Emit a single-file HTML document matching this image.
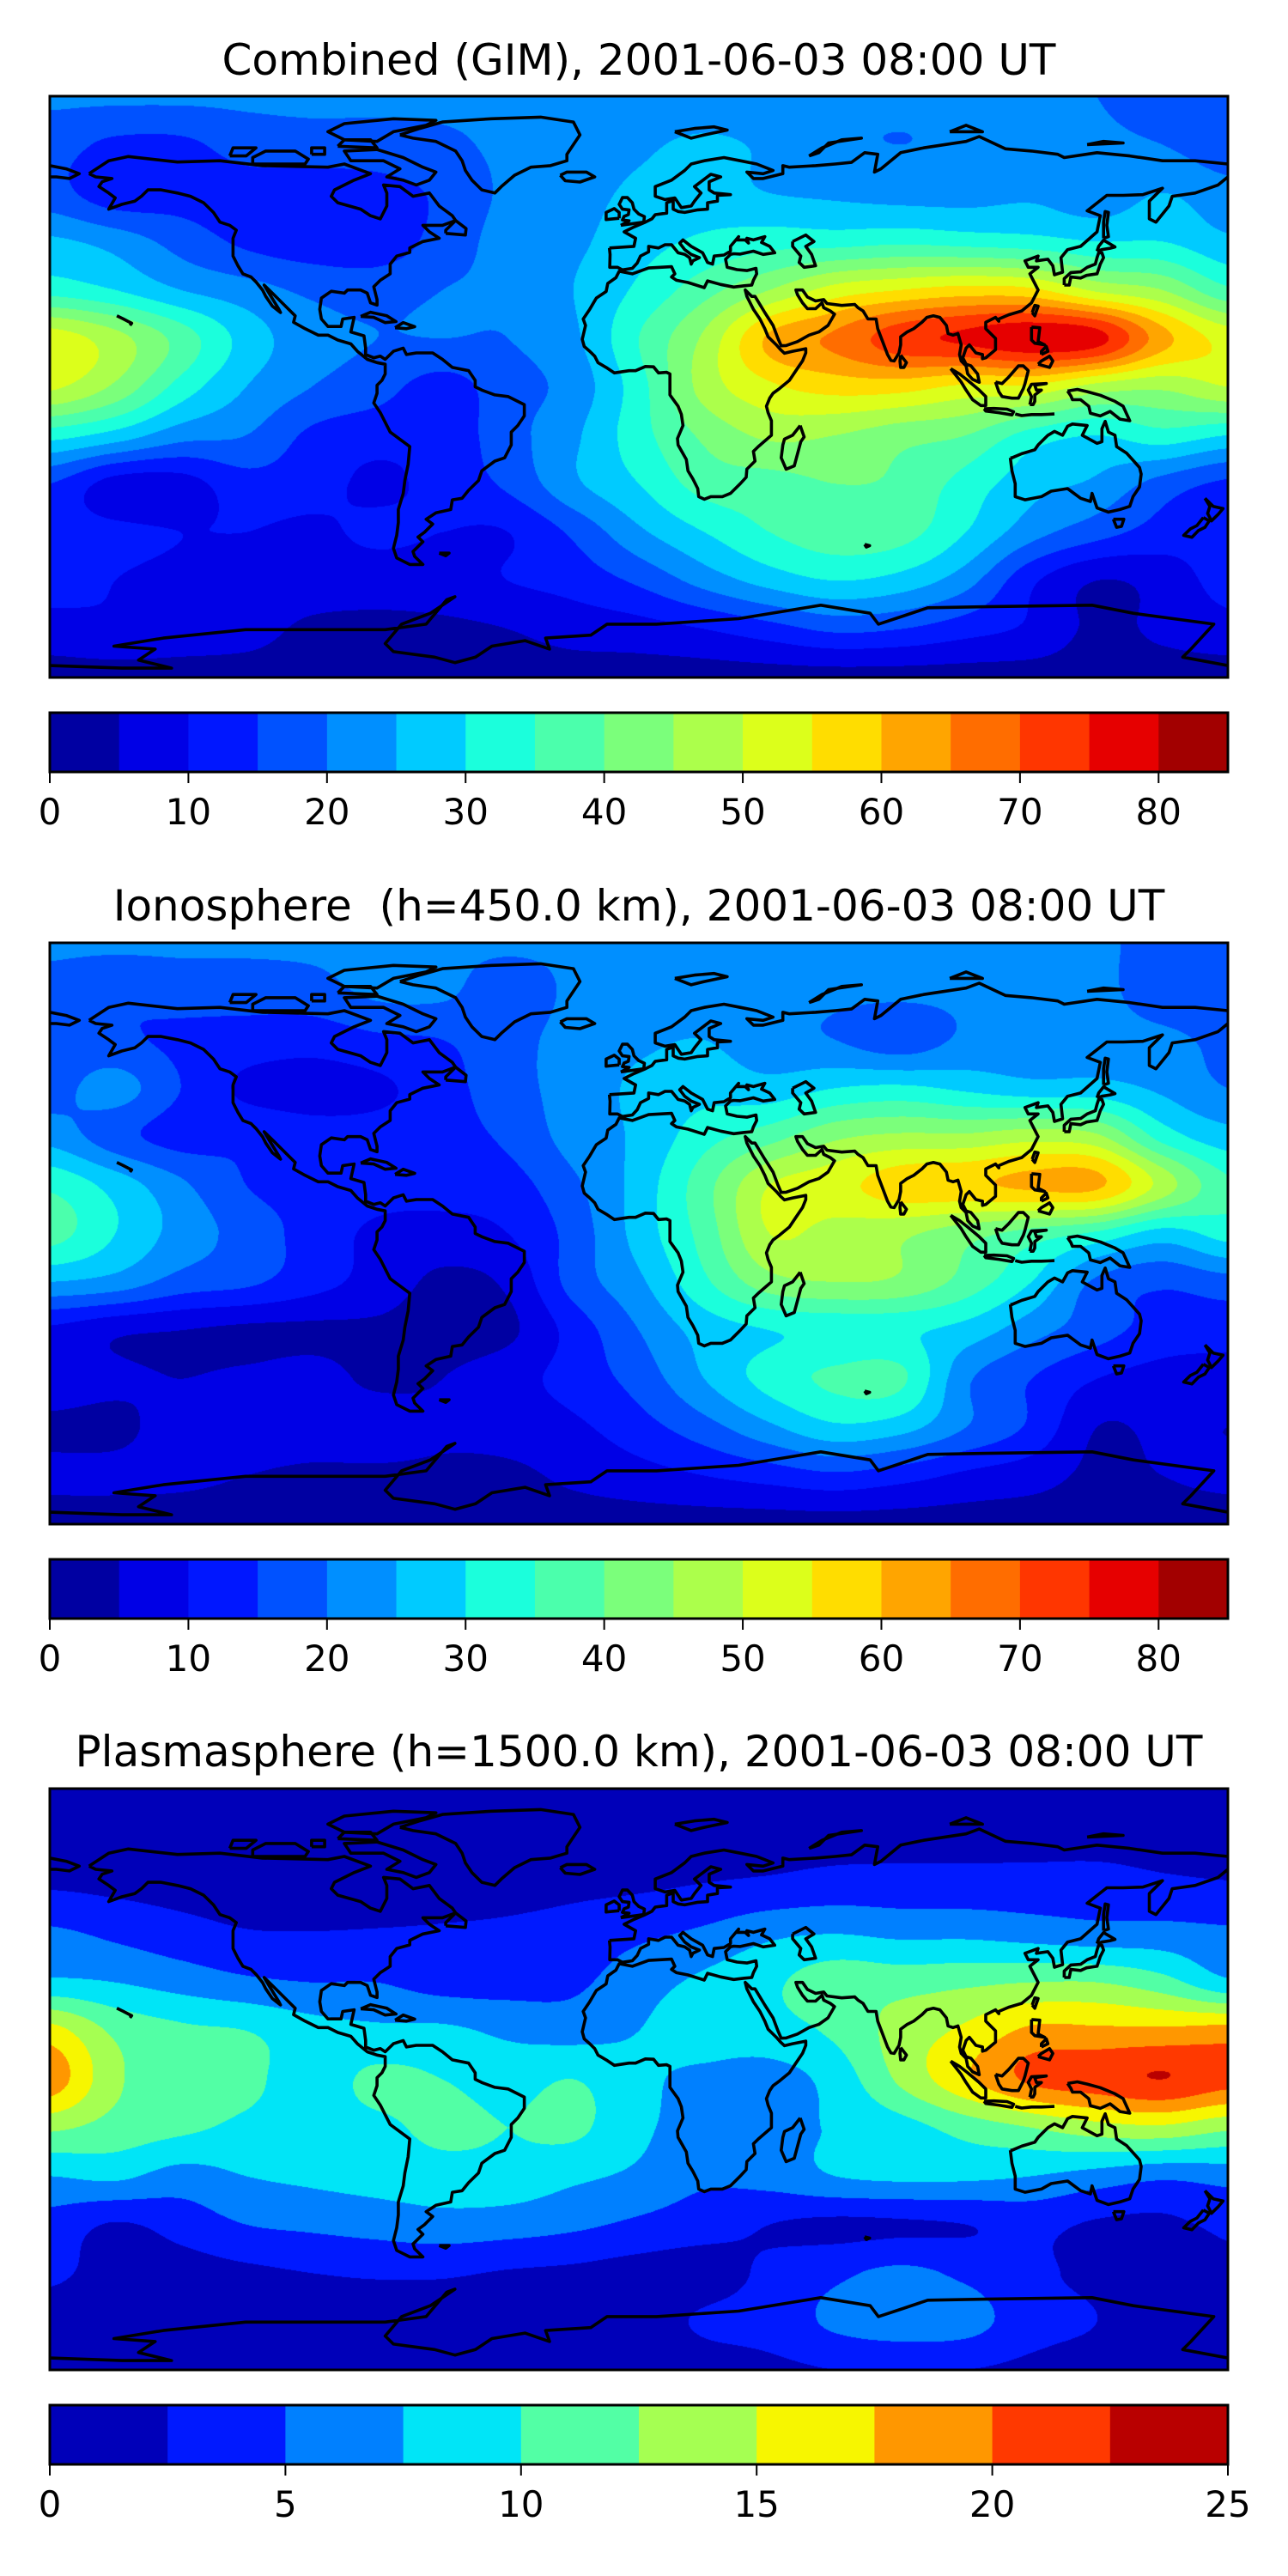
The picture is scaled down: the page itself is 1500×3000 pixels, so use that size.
<!DOCTYPE html>
<html><head><meta charset="utf-8">
<style>
html,body{margin:0;padding:0;background:#fff;}
body{width:1500px;height:3000px;position:relative;overflow:hidden;font-family:"DejaVu Sans","Liberation Sans",sans-serif;}
.title{position:absolute;left:58px;width:1372px;text-align:center;font-size:50px;line-height:60px;color:#000;white-space:nowrap;}
.map{position:absolute;left:58px;width:1372px;height:677px;}
.map canvas{position:absolute;left:0;top:0;}
.map svg{position:absolute;left:0;top:0;overflow:visible;}
.cbar{position:absolute;left:58px;width:1372px;height:69px;}
.tick{position:absolute;font-size:42px;line-height:50px;transform:translateX(-50%);color:#000;}
</style></head>
<body>

<div class="title" style="top:40px">Combined (GIM), 2001-06-03 08:00 UT</div>
<div class="map" id="map1" style="top:112px"></div>
<div class="cbar" id="cb1" style="top:830px"></div>

<div class="title" style="top:1025px">Ionosphere&nbsp; (h=450.0 km), 2001-06-03 08:00 UT</div>
<div class="map" id="map2" style="top:1098px"></div>
<div class="cbar" id="cb2" style="top:1816px"></div>

<div class="title" style="top:2010px">Plasmasphere (h=1500.0 km), 2001-06-03 08:00 UT</div>
<div class="map" id="map3" style="top:2083px"></div>
<div class="cbar" id="cb3" style="top:2801px"></div>

<script>
// Grid: rows lat 90..-90 step 15, cols lon -180..180 step 20
const gridLats = [90,75,60,45,30,15,0,-15,-30,-45,-60,-75,-90];
const gridLons = [-180,-160,-140,-120,-100,-80,-60,-40,-20,0,20,40,60,80,100,120,140,160,180];

const gimValues = [
[21,21,21,21,21,21,21,21,21,21,21,21,21,21,21,21,20,18,18],
[17,14,14,17,18,18,19,21,22,24,26,24,21,20,21,22,21,20,17],
[17,12,13,13,12,13,16,21,23,26,27,25,24,23,23,24,22,25,22],
[26,23,18,14,12,12,17,22,24,28,31,33,33,34,33,32,30,30,26],
[33,30,25,22,19,18,20,21,25,31,38,45,52,55,57,56,49,45,36],
[53,47,38,28,22,20,20,20,24,35,46,61,66,73,76,79,77,62,53],
[51,44,33,25,20,17,13,18,22,33,47,54,57,57,54,54,48,46,50],
[32,28,22,20,14,12,12,18,24,33,41,46,45,42,40,33,30,33,30],
[15,8,8,13,12,9,12,16,24,30,37,38,40,39,33,27,24,18,14],
[12,11,10,10,9,11,10,10,16,24,30,35,38,37,30,22,17,13,12],
[12,10,9,9,8,7,8,10,12,16,22,27,30,28,22,11,5,7,12],
[8,9,8,7,4,4,4,5,7,8,10,13,16,15,12,9,4,6,8],
[3,3,3,3,3,3,3,3,3,3,3,3,3,3,3,3,3,3,3]
];
const ionoValues = [
[21,21,21,21,21,21,21,21,21,21,21,21,21,21,21,21,21,18,18],
[18,16,17,17,18,21,21,17,21,22,23,22,21,21,21,21,21,18,18],
[17,16,14,13,12,14,15,18,22,24,25,22,20,17,21,22,22,21,19],
[18,22,15,9,8,9,13,18,22,26,28,27,30,31,29,27,27,24,20],
[23,17,13,14,12,12,13,16,22,26,33,38,44,46,46,48,46,33,27],
[34,28,21,15,13,12,12,13,19,27,38,50,53,58,59,61,61,48,36],
[37,30,23,18,13,9,8,10,17,27,37,50,48,46,42,38,34,28,32],
[25,23,18,16,12,8,4,6,17,24,34,43,45,44,38,30,19,16,18],
[9,6,5,4,4,4,3,4,12,20,27,30,31,31,28,22,17,13,12],
[8,6,5,6,7,4,5,8,12,17,25,32,36,36,21,15,10,8,8],
[4,4,7,8,8,8,6,7,9,13,18,24,29,27,20,14,5,6,5],
[6,6,6,5,4,4,4,4,6,8,10,12,14,12,9,7,4,5,6],
[3,3,3,3,3,3,3,3,3,3,3,3,3,3,3,3,3,3,3]
];
const plasmaValues = [
[1,1,1,1,1,1,1,1,1,1,1,1,1,1,1,1,1,1,1],
[1.5,1.5,1.5,1.5,1.5,1.5,1.5,1.5,1.5,1.5,1.5,1.5,1.6,1.7,1.7,1.7,1.7,1.6,1.5],
[2.3,2,1.7,1.5,1.5,1.5,1.5,1.7,2,2.2,2.6,3,3.5,3.5,3.5,3.5,3.5,3,2.7],
[5.5,4.5,3.5,2.7,2.6,2.7,2.8,3,3.5,4.5,5.5,7,7.5,7,7,6.5,6,6,5.5],
[8,7.5,6.5,5.5,5,5,4,4,4.5,6.5,8,9.5,11.5,11.5,12,12.5,12.5,11,8],
[16,12,10.5,10,8.5,8,8,7,6.5,7.5,8.5,9,10.5,13.5,15.5,18,18,18,18.5],
[19,13,11,10.5,9,10.5,10,9,10,8,7,6.5,8.5,13,17,20.5,21.5,22.5,21],
[13,11.5,10.5,9.5,9,9.5,10.5,10,10.5,8,6.5,6.5,7.8,9,11,12.5,14,14.5,13],
[7.5,8,6.5,7.5,8,8.5,9,9,8,7,5.5,6,7.5,8,8,7.5,6.5,5.5,6],
[4,2.3,3.5,5,5.5,6,6.5,6.2,5.5,4.5,3.5,2.5,2,2.2,2.5,3.2,2.2,2,3],
[3,1.5,1.5,2,2.5,2.8,2.8,2.3,2,1.5,1.5,3,4.5,5.5,4.5,3,2,1.5,2],
[1.2,1.2,1.2,1.2,1.2,1.2,1.2,1.2,1.2,1.5,2.8,3.5,5.5,6.5,6,3.5,2.5,1.2,1.2],
[1,1,1,1,1,1,1,1,1,1,1.5,2,2.5,2.5,2.5,2,1.5,1,1]
];
const gimLevelMax = 85, gimLevelStep = 5;
const plasmaLevelMax = 25, plasmaLevelStep = 2.5;
const gimTicks = [0,10,20,30,40,50,60,70,80];
const plasmaTicks = [0,5,10,15,20,25];

const W = 1372, H = 677;
// matplotlib jet segment data
const jetR = [[0,0],[0.35,0],[0.66,1],[0.89,1],[1,0.5]];
const jetG = [[0,0],[0.125,0],[0.375,1],[0.64,1],[0.91,0],[1,0]];
const jetB = [[0,0.5],[0.11,1],[0.34,1],[0.65,0],[1,0]];
function seg(s,t){ for(let i=1;i<s.length;i++){ if(t<=s[i][0]){ const a=s[i-1],b=s[i]; return a[1]+(b[1]-a[1])*(t-a[0])/(b[0]-a[0]); } } return s[s.length-1][1]; }
function jet(t){ return [seg(jetR,t),seg(jetG,t),seg(jetB,t)].map(v=>Math.round(v*255)); }
function bandColors(n){ const a=[]; for(let i=0;i<n;i++) a.push(jet((i+0.5)/n)); return a; }
function cr(p0,p1,p2,p3,t){return 0.5*((2*p1)+(-p0+p2)*t+(2*p0-5*p1+4*p2-p3)*t*t+(-p0+3*p1-3*p2+p3)*t*t*t);}

function drawField(container, grid, levelMax, step){
  const n = Math.round(levelMax/step);
  const cols = bandColors(n);
  const cv = document.createElement('canvas');
  cv.width = W; cv.height = H;
  
  
  container.appendChild(cv);
  const ctx = cv.getContext('2d');
  const img = ctx.createImageData(W, H);
  const nr = gridLats.length, nc = gridLons.length;
  const rowv = new Array(nc);
  const g = (r,c) => grid[Math.max(0,Math.min(nr-1,r))][Math.max(0,Math.min(nc-1,c))];
  for(let py=0; py<H; py++){
    const lat = 90 - (py+0.5)/H*180;
    const gy = (90-lat)/15; const iy = Math.min(nr-2, Math.floor(gy)); const ty = gy-iy;
    for(let c=0;c<nc;c++) rowv[c] = cr(g(iy-1,c),g(iy,c),g(iy+1,c),g(iy+2,c),ty);
    const rv = k => rowv[Math.max(0,Math.min(nc-1,k))];
    for(let px=0; px<W; px++){
      const lon = -180 + (px+0.5)/W*360;
      const gx = (lon+180)/20; const ix = Math.min(nc-2, Math.floor(gx)); const tx = gx-ix;
      const v = cr(rv(ix-1),rv(ix),rv(ix+1),rv(ix+2),tx);
      let b = Math.floor(v/step); if(b<0) b=0; if(b>n-1) b=n-1;
      const col = cols[b]; const o = (py*W+px)*4;
      img.data[o]=col[0]; img.data[o+1]=col[1]; img.data[o+2]=col[2]; img.data[o+3]=255;
    }
  }
  ctx.putImageData(img,0,0);
}

// Coastlines (lon, lat)
const coasts = [
 [[-168,66],[-162,70],[-156,71.3],[-141,69.6],[-128,70],[-115,68.5],[-95,68],[-90,69],[-82,66],[-87,64],[-93,61],[-94,59],[-92,57],[-85,55],[-82,53],[-79,52],[-77,56],[-77,60],[-78,62.5],[-73,62],[-69,59],[-64,60],[-61,56],[-57,53],[-56,51.5],[-60,50],[-66,50],[-64,48],[-61,46],[-66,45],[-70,43],[-70,41.6],[-74,40.5],[-76,38],[-76,35],[-79,33],[-81,31],[-80,27],[-80,25.3],[-82,26],[-83,29],[-85,30],[-89,30],[-90,29],[-94,29.6],[-97,27.5],[-97.5,24],[-97,21],[-95,18.7],[-91,18.7],[-90.5,21],[-87,21.5],[-88,17],[-84,15.8],[-83.5,12],[-83.5,10],[-81,9],[-79,9.5],[-77.5,8.5],[-75,11],[-72,12],[-71,10],[-68,10.5],[-63,10.5],[-60,8.5],[-57,6],[-52,5],[-50,2],[-50,0],[-48,-1],[-44,-2.5],[-40,-3],[-35,-5.5],[-35,-9],[-37,-12],[-39,-14],[-39,-18],[-41,-22],[-44,-23],[-48,-26],[-49,-29],[-52,-32],[-54,-34.5],[-57,-35],[-57.5,-38],[-62,-39],[-65,-41],[-63,-42.5],[-65.5,-45],[-67.5,-46.5],[-66,-48],[-69,-51],[-68.5,-52.5],[-66,-55],[-70,-55],[-74,-53],[-75,-50],[-74,-46],[-73.5,-42],[-73.5,-38],[-72,-33],[-71.5,-29],[-70.5,-24],[-70,-18.5],[-72,-17],[-76,-14],[-79,-8],[-81,-5],[-80,-2],[-80,0.5],[-78.5,2],[-77.5,4],[-77.5,7],[-80,7.5],[-83,8.5],[-86,11],[-88,13.3],[-92,14.5],[-95,16],[-98,16],[-102,18],[-105.5,20],[-105,22],[-108,25],[-112,29],[-114.5,31.5],[-113,29],[-110,24],[-109.5,23],[-112,25],[-114,28],[-115,30],[-117,32.5],[-118.5,34],[-121,35],[-122.5,37.5],[-124,40.5],[-124,46],[-123,48.5],[-125,50],[-128,51],[-130,54],[-133,57],[-137,59],[-141,60],[-146,61],[-150,61],[-152,59],[-154,57.5],[-158,56.5],[-162,55],[-160,58.5],[-162,60],[-165,62],[-164,63.5],[-161,64.5],[-166,65],[-168,66]],
 [[-73,78],[-67,80],[-60,82],[-45,83],[-30,83.5],[-20,82],[-18,78],[-20,75],[-22,72],[-22,70],[-27,68.5],[-33,68],[-38,65.5],[-42,62],[-44,60],[-48,61],[-51,64],[-53,67],[-54,70],[-56,73],[-62,76],[-69,77],[-73,78]],
 [[-80,73.5],[-72,71],[-66,68],[-62,66.5],[-64,64],[-68,62.5],[-72,64],[-77,65],[-73,67.5],[-78,70],[-88,70],[-90,73],[-80,73.5]],
 [[-90,76.5],[-80,76],[-75,79],[-65,81],[-62,82.5],[-75,83],[-90,81.5],[-95,79],[-90,76.5]],
 [[-118,69],[-102,69],[-101,70.5],[-105,73],[-114,73],[-118,71],[-118,69]],
 [[-125,71.5],[-120,71.5],[-117,74],[-124,74],[-125,71.5]],
 [[-92,74.5],[-80,74],[-82,76.5],[-90,76.5],[-92,74.5]],
 [[-100,72],[-96,72],[-96,74],[-100,74],[-100,72]],
 [[-9,43],[-1.5,43.5],[-1,46],[-4.5,48],[-1.5,49.5],[2,51],[4,52],[5,53.3],[8.5,53.8],[8.5,57],[10.5,57.7],[10.5,55],[12,54.3],[14,54],[18,54.8],[21,55],[21,57],[24,57.5],[24,59.3],[28,59.5],[23,60],[21.5,61],[21.5,63.5],[25,65],[22,65.8],[17,62],[19,60],[17,57.5],[16,56],[13,55.5],[11,58.5],[8,58],[5,59],[5,62],[10,64],[14,67],[16,69],[20,70],[26,71],[31,70],[36,69],[41,67],[38,66],[33,66.5],[35,64.5],[38,64.5],[44,66],[44,68.5],[46,68],[54,68.5],[60,69],[65,69.5],[69,72.5],[73,72],[72,66.5],[74,67.5],[80,72.5],[87,74],[100,76],[104,77.5],[112,73.7],[120,73],[128,72],[130,71],[140,72.5],[150,71.5],[160,70],[170,70],[180,69]],
 [[180,65],[177,62.5],[170,60],[163,59],[162,56],[158,51],[156,52],[156,57.5],[160,61.5],[154,59.5],[148,59.3],[143,59.3],[137,54.5],[141,53],[140,48],[135,43.5],[131,42.5],[129,40],[129.5,35.5],[127,34.7],[126.5,37.5],[125,39.5],[121.5,39],[122,40.5],[118,39],[119,37],[122,37],[119.5,35],[121,32],[122,30],[120,26],[117,23.5],[113,22.3],[110,21],[110,20.3],[109,21.5],[106,20],[106,18],[109,15],[109,11.5],[106,9],[105,8.7],[105,10],[103,10.5],[101,13],[100,12],[99,9],[100,7],[101.5,6.5],[103.5,4],[104,1.4],[102,2.3],[100.5,4],[100,6.5],[98.5,8],[98,10],[98.5,13],[97.5,16.5],[96,16],[94.5,16.5],[94,19],[92,21.5],[90,22],[88,21.5],[86.5,20],[84,18],[82,17],[80,15.5],[80,13],[79.5,10.5],[78,8],[77,8.2],[76,10],[74.5,14],[73,18],[72.5,21],[70,21],[68.5,23.5],[67,24.5],[66,25.5],[62,25.2],[57.5,25.8],[56.5,27],[54,26.6],[51.5,27.8],[50,30],[48,30],[48.5,28.5],[50,26],[51.5,24.2],[54,24.2],[56,26],[56.5,24.5],[58.5,23.5],[59.8,22.5],[57.8,19],[55,17],[52,16],[48.5,14],[45,12.8],[43.5,12.7],[42.5,15],[41,19],[38.5,23],[35.5,28],[34.5,28],[32.5,30],[33,28],[35,24],[37,21],[38.5,18],[39.5,15.5],[42,13],[43.3,11.5],[44.5,10.4],[47,11],[51,11.8],[51,10.5],[50,8],[48,5],[46,2],[43,-0.5],[41,-2],[40,-3.5],[39,-6],[39.5,-8],[40.5,-10.5],[40.5,-15],[36.5,-18.5],[35,-20],[35.5,-23],[33,-25.5],[32.8,-28],[31,-30],[28,-33],[25.5,-34],[22,-34],[20,-34.8],[18.3,-34],[18,-31.5],[16.5,-28.5],[15,-26],[14.5,-22.5],[12,-18],[11.8,-16],[13.5,-12],[13,-8.5],[12,-6],[9.5,-2.5],[9.5,1],[9.5,4],[8.5,4.5],[6,4.3],[4.5,6.2],[2,6.3],[-1,5],[-3,5],[-7.5,4.3],[-10,6],[-12.5,7.5],[-13.5,9.5],[-15,11],[-16.7,12.5],[-17.3,14.7],[-16.3,19],[-17,21],[-15,24],[-13,27.5],[-10,29.5],[-9.5,32],[-7,33.8],[-6,35.8],[-2,35],[3,36.8],[10,37.2],[11,35],[10,34],[11.5,33],[15,32.3],[20,30.7],[21,32.8],[25,31.7],[29,30.9],[32.2,31.3],[34.5,31.5],[35,33],[36,35],[35.8,36.7],[33,36],[30,36.3],[27,37],[26.5,39.5],[28,41],[29,41.2],[31,41.1],[35,42],[38,41],[41.5,41.5],[40,43.5],[37.5,44.7],[38.5,46.5],[35,45.5],[33,46],[33.5,44.5],[32.5,45.5],[30,45.5],[30.5,46.5],[28,43.5],[28,42],[26,40.8],[23,40.5],[22.5,38],[21,38.5],[19.5,41.5],[16,43.5],[13.5,45.5],[12.5,44.5],[14,42.5],[16,41],[18.5,40],[16.5,39],[16,38],[15.5,40],[14,41],[12,41.5],[10,44],[8,44],[6,43],[3,43.5],[3,41.8],[0.5,40.5],[-0.5,38.3],[-2,36.7],[-5,36.2],[-6.5,37],[-8.9,37],[-8.8,41],[-9,43]],
 [[47,45],[51,47],[53.5,45],[51,43.5],[52.8,41],[54,37.5],[50.5,37],[49,38.5],[49.5,40.5],[47,43.5],[47,45]],
 [[-180,68.5],[-175,67.5],[-171,66],[-174,64.5],[-178,65],[-180,65]],
 [[52,71.5],[56,74],[62,76.5],[68,77],[58,75.5],[55,72.5],[52,71.5]],
 [[11,79],[17,80],[23,80.5],[27,79.5],[20,78],[16,77],[11,79]],
 [[95,79],[105,79],[100,81],[95,79]],
 [[137,75],[148,75.5],[142,76],[137,75]],
 [[-24,65.5],[-22,66.5],[-16,66.5],[-13.5,65],[-18,63.4],[-22.5,63.8],[-24,65.5]],
 [[-5.5,50],[1.5,51],[1.7,52.7],[0,53.5],[-1.5,55],[-2,57],[-3.5,58.6],[-5,58.6],[-6,56.5],[-5,55],[-3,54.8],[-3.2,53.3],[-4.5,52.8],[-5,51.7],[-3,51.4],[-5.5,50]],
 [[-6,52.2],[-6,54],[-7.5,55.2],[-10,54],[-10,51.8],[-6,52.2]],
 [[130,31.5],[131.5,31.5],[132,34],[135,33.7],[136.8,34.5],[140,35],[141,38],[142,40],[141.5,41.5],[140.5,41.5],[140,40],[139.5,38],[137,37],[135,35.6],[132,35.4],[130,33.5],[130,31.5]],
 [[140,42],[141.5,42.5],[144,42.9],[145.5,43.3],[142,45.4],[140.5,43.5],[140,42]],
 [[142,46],[143.5,46.5],[143,50],[143.5,54],[142.5,54.3],[142,51],[142,46]],
 [[120.2,23],[121,22],[122,25],[121,25.2],[120.2,23]],
 [[120,18.5],[122.5,18.3],[122,14],[124,13],[121,13.5],[120,14.5],[120,18.5]],
 [[122,7],[125.5,6],[126.5,8],[125.5,9.5],[123,8],[122,7]],
 [[123,10],[125,11],[124.5,12.5],[123,11],[123,10]],
 [[109,1.5],[111,1],[113,3],[116,6.5],[117.5,6.5],[119,5],[118,1],[117.5,-0.5],[116,-3.5],[114,-3.5],[111,-3],[110,-1.5],[109,1.5]],
 [[95.3,5.6],[98,4],[100.5,2],[104,-1],[106,-3],[106,-5.8],[104.5,-5.8],[102,-4],[100,-1],[98.5,1.5],[95.3,5.6]],
 [[105.5,-6.8],[108.5,-6.7],[112.5,-6.9],[114.5,-7.7],[114,-8.7],[110,-8],[106,-7.5],[105.5,-6.8]],
 [[119.5,-5.5],[120,-3],[119,-1],[120,0.8],[124.5,1],[121,0.5],[121.5,-1],[123,-1],[121,-2.5],[121,-4.5],[120.5,-5.5],[119.5,-5.5]],
 [[131,-1.3],[134,-0.8],[137,-1.5],[141,-2.6],[145.5,-4.5],[148,-6],[150,-10.5],[147,-10],[144,-7.6],[141,-9],[138,-8.2],[137.5,-6],[135,-4],[132.5,-4],[132,-2.8],[131,-1.3]],
 [[115,-8.4],[117,-8.9],[120,-8.6],[123,-8.6],[125,-8.5],[127,-8.4]],
 [[80,9.8],[81.8,7.5],[81,6],[80,6],[79.8,8],[80,9.8]],
 [[49.3,-12],[50.5,-15.5],[49.5,-17],[47.5,-24.5],[45,-25.5],[43.5,-22],[44,-18],[44.5,-16.2],[47,-15],[49.3,-12]],
 [[113.5,-22],[114,-26],[115,-30],[115,-34],[118,-35],[123,-34],[126,-32.3],[131,-31.5],[135,-34.5],[138,-35.5],[138.5,-33],[140,-37.5],[143.5,-38.8],[147,-38],[150,-37],[151,-34],[153,-31],[153.5,-27],[153,-25],[150.8,-22.5],[149,-20.5],[146,-18.5],[145.5,-15],[143.5,-14],[142.5,-10.7],[141.5,-13],[141.5,-17],[140,-17.5],[135.5,-15],[137,-12],[132.5,-11.5],[131,-12.2],[129.5,-15],[127,-13.8],[125,-15],[122,-18],[121,-19.5],[117,-20.7],[114,-22],[113.5,-22]],
 [[145,-41],[148.2,-41],[147.5,-43.2],[146,-43.5],[145,-41]],
 [[173,-34.5],[175.5,-37],[178.5,-37.7],[177,-39.5],[175,-41.5],[173.8,-39.2],[174.5,-37],[173,-34.5]],
 [[172.5,-40.5],[174.3,-41.5],[173,-43.5],[171,-44.5],[169,-46.6],[166.5,-46],[168.5,-44],[170.5,-43],[172.5,-40.5]],
 [[-155.5,19],[-155,19.7],[-156,20.2],[-157.5,21],[-159.5,22]],
 [[-61,-51.5],[-58,-51.5],[-59,-52.3],[-61,-51.5]],
 [[69,-48.8],[70.5,-49.2],[69.5,-49.6],[69,-48.8]],
 [[-85,21.8],[-82,23.1],[-77,22],[-74.2,20.2],[-77.5,19.9],[-81,21.5],[-85,21.8]],
 [[-74.5,18.3],[-72,19.9],[-68.5,18.6],[-71,18],[-74.5,18.3]],
 [[-59,47.5],[-53,47],[-52.8,49],[-56,51.5],[-59,48.5],[-59,47.5]],
 [[-180,-86.3],[-157.9,-87.1],[-142.8,-87.1],[-152.9,-84.6],[-147.8,-81.2],[-160.4,-80.3],[-145.3,-77.8],[-120.2,-75.2],[-100.1,-75.2],[-77.5,-75.2],[-65,-73.5],[-58.7,-65.9],[-56.2,-65],[-63.7,-70.1],[-72.5,-73.5],[-77.5,-79.5],[-75,-82],[-62.4,-83.7],[-56.2,-85.4],[-49.9,-83.7],[-44.9,-80.3],[-34.8,-78.6],[-27.3,-81.2],[-28.5,-77.8],[-14.7,-76.9],[-9.7,-73.5],[5.4,-73.5],[30.5,-71.8],[55.6,-67.6],[70.7,-70.1],[73.2,-73.5],[80.7,-71],[88.3,-68.4],[105.9,-68.1],[138.5,-67.6],[151.1,-70.1],[175.7,-73.5],[168.7,-81.2],[166.2,-83.7],[180,-86.3]]
];

const NS = 'http://www.w3.org/2000/svg';
function drawCoast(container, idx){
  const svg = document.createElementNS(NS,'svg');
  svg.setAttribute('width', W); svg.setAttribute('height', H);
  
  
  const cp = document.createElementNS(NS,'clipPath'); cp.setAttribute('id','clip'+idx);
  const cr_ = document.createElementNS(NS,'rect'); cr_.setAttribute('width',W); cr_.setAttribute('height',H);
  cp.appendChild(cr_); svg.appendChild(cp);
  const g = document.createElementNS(NS,'g'); g.setAttribute('clip-path','url(#clip'+idx+')');
  coasts.forEach(line => {
    const p = document.createElementNS(NS,'polyline');
    p.setAttribute('points', line.map(([lo,la]) => ((lo+180)/360*W).toFixed(1)+','+((90-la)/180*H).toFixed(1)).join(' '));
    p.setAttribute('fill','none'); p.setAttribute('stroke','#000'); p.setAttribute('stroke-width','3.6');
    p.setAttribute('stroke-linejoin','round');
    
    
    g.appendChild(p);
  });
  svg.appendChild(g);
  const fr = document.createElementNS(NS,'rect');
  fr.setAttribute('x',0); fr.setAttribute('y',0); fr.setAttribute('width',W); fr.setAttribute('height',H);
  fr.setAttribute('fill','none'); fr.setAttribute('stroke','#000'); fr.setAttribute('stroke-width','3');
  
  
  svg.appendChild(fr);
  container.appendChild(svg);
}

function drawColorbar(container, levelMax, step, ticks){
  const n = Math.round(levelMax/step);
  const cols = bandColors(n);
  const svg = document.createElementNS(NS,'svg');
  svg.setAttribute('width', W); svg.setAttribute('height', 69);
  svg.style.position='absolute'; svg.style.left='0'; svg.style.top='0'; svg.style.overflow='visible';
  const xs = v => v/levelMax*W;
  for(let i=0;i<n;i++){
    const r = document.createElementNS(NS,'rect');
    r.setAttribute('x', xs(i*step)); r.setAttribute('y', 0);
    r.setAttribute('width', xs(step)+0.6); r.setAttribute('height', 69);
    r.setAttribute('fill', 'rgb('+cols[i].join(',')+')');
    
    
    svg.appendChild(r);
  }
  const fr = document.createElementNS(NS,'rect');
  fr.setAttribute('x',0); fr.setAttribute('y',0); fr.setAttribute('width',W); fr.setAttribute('height',69);
  fr.setAttribute('fill','none'); fr.setAttribute('stroke','#000'); fr.setAttribute('stroke-width','3');
  
  
  svg.appendChild(fr);
  ticks.forEach(t => {
    const l = document.createElementNS(NS,'line');
    l.setAttribute('x1', xs(t)); l.setAttribute('x2', xs(t)); l.setAttribute('y1', 69); l.setAttribute('y2', 82);
    l.setAttribute('stroke','#000'); l.setAttribute('stroke-width','2');
    
    
    svg.appendChild(l);
  });
  container.appendChild(svg);
  ticks.forEach(t => {
    const d = document.createElement('div');
    d.className = 'tick';
    d.style.left = xs(t)+'px'; d.style.top = '91px';
    d.textContent = String(t);
    
    
    container.appendChild(d);
  });
}

const m1 = document.getElementById('map1'), m2 = document.getElementById('map2'), m3 = document.getElementById('map3');
drawField(m1, gimValues, gimLevelMax, gimLevelStep); drawCoast(m1, 1);
drawField(m2, ionoValues, gimLevelMax, gimLevelStep); drawCoast(m2, 2);
drawField(m3, plasmaValues, plasmaLevelMax, plasmaLevelStep); drawCoast(m3, 3);
drawColorbar(document.getElementById('cb1'), gimLevelMax, gimLevelStep, gimTicks);
drawColorbar(document.getElementById('cb2'), gimLevelMax, gimLevelStep, gimTicks);
drawColorbar(document.getElementById('cb3'), plasmaLevelMax, plasmaLevelStep, plasmaTicks);
</script>
</body></html>
